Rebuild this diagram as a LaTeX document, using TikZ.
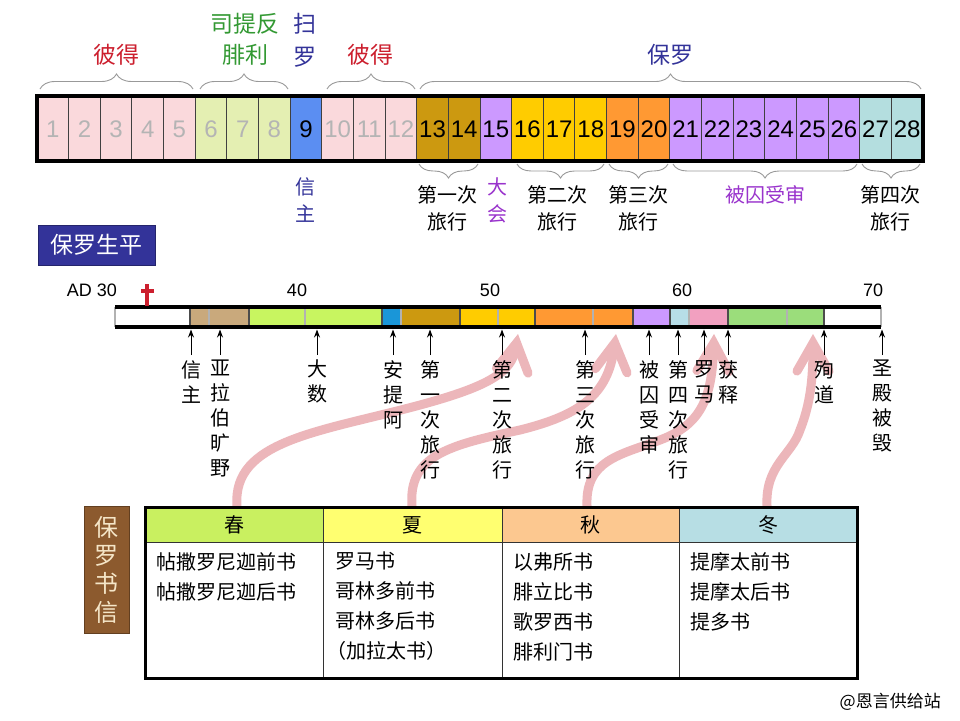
\documentclass[tikz,border=0pt]{standalone}
\usepackage{fontspec}
\setmainfont{Liberation Sans}
\newfontfamily\cjk{Noto Sans CJK SC}
\usetikzlibrary{arrows.meta,decorations.pathreplacing}
\definecolor{pkc}{HTML}{FAD9DC}
\definecolor{lgc}{HTML}{E4EFB2}
\definecolor{blc}{HTML}{5B8EF2}
\definecolor{dgc}{HTML}{CC9910}
\definecolor{lvc}{HTML}{CC99FF}
\definecolor{gdc}{HTML}{FFCC00}
\definecolor{orc}{HTML}{FF9933}
\definecolor{cyc}{HTML}{B4DEDF}
\definecolor{gry}{HTML}{B4B4B4}
\definecolor{tanc}{HTML}{C9A97C}
\definecolor{lgrn}{HTML}{C8F560}
\definecolor{blu2}{HTML}{1A96D8}
\definecolor{cy2}{HTML}{B7DEE8}
\definecolor{pk2}{HTML}{F2A0C0}
\definecolor{gr2}{HTML}{9BDD7B}
\definecolor{redt}{HTML}{CC1F2E}
\definecolor{grnt}{HTML}{339933}
\definecolor{dblue}{HTML}{333399}
\definecolor{purt}{HTML}{9933CC}
\definecolor{brn}{HTML}{8C5A2E}
\definecolor{cream}{HTML}{F5E6C8}
\definecolor{pinkA}{HTML}{ECB6BA}
\definecolor{hsp}{HTML}{C9F060}
\definecolor{hsu}{HTML}{FFFF70}
\definecolor{hau}{HTML}{FCC890}
\definecolor{hwi}{HTML}{B7DEE4}
\begin{document}
\begin{tikzpicture}[x=1pt,y=-1pt,
  num/.style={inner sep=0pt,font=\fontsize{24}{28}\selectfont},
  toplab/.style={inner sep=0pt,font=\cjk\fontsize{23}{28}\selectfont},
  sublab/.style={inner sep=0pt,font=\cjk\fontsize{20}{27}\selectfont,align=center},
  yearlab/.style={inner sep=0pt,font=\fontsize{18}{22}\selectfont},
  evt/.style={inner sep=0pt,anchor=north,align=center,font=\cjk\fontsize{20}{25}\selectfont},
  bracelineup/.style={draw=gray!80,line width=0.9pt,decorate,decoration={brace,amplitude=15pt}},
  bracelinedn/.style={draw=gray!80,line width=0.9pt,decorate,decoration={brace,mirror,amplitude=14pt}},
  tk/.style={line width=1pt,-{Stealth[length=8pt,width=6pt]}},
  pinkarrow/.style={draw=pinkA,line width=9pt,line cap=round,-{Straight Barb[length=28pt,width=32pt,line cap=round]}},
  secdiv/.style={draw=black!70,line width=1.2pt},
  yrdiv/.style={draw=gray!60,line width=1.5pt},
  hdr/.style={inner sep=0pt,font=\cjk\fontsize{20}{24}\selectfont},
  body/.style={inner sep=0pt,anchor=north west,align=left,font=\cjk\fontsize{20}{30}\selectfont}
]
\useasboundingbox (0,0) rectangle (960,720);
\fill[white] (0,0) rectangle (960,720);

% ---------- top bar ----------
\foreach \i/\fc/\tc in {1/pkc/gry,2/pkc/gry,3/pkc/gry,4/pkc/gry,5/pkc/gry,6/lgc/gry,7/lgc/gry,8/lgc/gry,9/blc/black,10/pkc/gry,11/pkc/gry,12/pkc/gry,13/dgc/black,14/dgc/black,15/lvc/black,16/gdc/black,17/gdc/black,18/gdc/black,19/orc/black,20/orc/black,21/lvc/black,22/lvc/black,23/lvc/black,24/lvc/black,25/lvc/black,26/lvc/black,27/cyc/black,28/cyc/black}{
  \pgfmathsetmacro\xa{37+(\i-1)*31.643}
  \pgfmathsetmacro\xb{37+\i*31.643}
  \fill[\fc] (\xa,96) rectangle (\xb,161);
  \node[num,text=\tc] (c\i) at ({(\xa+\xb)/2},129) {\i};
}
\foreach \i in {1,...,27}{
  \pgfmathsetmacro\xb{37+\i*31.643}
  \draw[black!75,line width=1pt] (\xb,96) -- (\xb,161);
}
\draw[line width=3.5pt] (37,96) rectangle (923,161);

% braces above
\draw[bracelineup] (40,89) -- (193,89);
\draw[bracelineup] (200,89) -- (288,89);
\draw[bracelineup] (327,89) -- (415,89);
\draw[bracelineup] (420,89) -- (921,89);

\node[toplab,text=redt] (pe1) at (116,55) {彼得};
\node[toplab,text=grnt] (st1) at (245,24) {司提反};
\node[toplab,text=grnt] (st2) at (245,55) {腓利};
\node[toplab,text=dblue] (sa1) at (305,24) {扫};
\node[toplab,text=dblue] (sa2) at (305,57) {罗};
\node[toplab,text=redt] (pe2) at (370,55) {彼得};
\node[toplab,text=dblue] (pa) at (670,55) {保罗};

% braces below
\draw[bracelinedn] (419,164) -- (478,164);
\draw[bracelinedn] (517,164) -- (604,164);
\draw[bracelinedn] (609,164) -- (668,164);
\draw[bracelinedn] (673,164) -- (857,164);
\draw[bracelinedn] (862,164) -- (920,164);

\node[sublab,text=dblue] (xz) at (305,200) {信\\主};
\node[sublab,text=black] (j1) at (447,208) {第一次\\旅行};
\node[sublab,text=purt] (dh) at (497,200) {大\\会};
\node[sublab,text=black] (j2) at (557,208) {第二次\\旅行};
\node[sublab,text=black] (j3) at (638,208) {第三次\\旅行};
\node[sublab,text=purt] (pr) at (765,195) {被囚受审};
\node[sublab,text=black] (j4) at (890,208) {第四次\\旅行};

% title box
\node[fill=dblue,draw=dblue!70!black,line width=1pt,minimum width=117pt,minimum height=40pt,inner sep=0pt,text=white,font=\cjk\fontsize{23}{28}\selectfont] (life) at (96.5,245) {保罗生平};

% ---------- pink arrows (behind) ----------
\coordinate (s1) at (237,506); \coordinate (e1) at (518,334);
\coordinate (s2) at (412,506); \coordinate (e2) at (616,334);
\coordinate (s3) at (587,506); \coordinate (e3) at (714,334);
\coordinate (s4) at (767,506); \coordinate (e4) at (813,334);
\draw[pinkarrow] (s1) .. controls (232,440) and (320,432) .. (420,405) .. controls (490,386) and (512,372) .. (e1);
\draw[pinkarrow] (s2) .. controls (408,455) and (450,445) .. (520,430) .. controls (580,415) and (608,395) .. (e2);
\draw[pinkarrow] (s3) .. controls (585,460) and (620,455) .. (660,440) .. controls (700,425) and (712,400) .. (e3);
\draw[pinkarrow] (s4) .. controls (765,465) and (792,455) .. (800,430) .. controls (810,405) and (813,380) .. (e4);

% ---------- timeline ----------
\foreach \xa/\xb/\fc in {115/190/white,190/249/tanc,249/382/lgrn,382/401/blu2,401/460/dgc,460/535/gdc,535/633/orc,633/670/lvc,670/689/cy2,689/728/pk2,728/824/gr2,824/881/white}{
  \fill[\fc] (\xa,307) rectangle (\xb,327);
}
\foreach \x in {209,305,401,498,593,689,787,881,115}{\draw[yrdiv] (\x,307) -- (\x,327);}
\foreach \x in {190,249,382,460,535,633,670,728,824}{\draw[secdiv] (\x,307) -- (\x,327);}
\draw[line width=3.5pt] (115,307) -- (881,307);
\draw[line width=3.5pt] (115,327) -- (881,327);

\node[yearlab] (y30) at (92,290) {AD 30};
\node[yearlab] (y40) at (297,290) {40};
\node[yearlab] (y50) at (490,290) {50};
\node[yearlab] (y60) at (682,290) {60};
\node[yearlab] (y70) at (873,290) {70};

% red cross
\fill[redt] (145.2,284) rectangle (148.8,306);
\fill[redt] (140.5,288.5) rectangle (153.5,292.5);

% events
\foreach \n/\x/\t in {a/191/{信\\主},b/220/{亚\\拉\\伯\\旷\\野},c/317/{大\\数},d/393/{安\\提\\阿},e/430/{第\\一\\次\\旅\\行},f/502/{第\\二\\次\\旅\\行},g/585/{第\\三\\次\\旅\\行},h/649/{被\\囚\\受\\审},i/678/{第\\四\\次\\旅\\行},j/704/{罗\\马},k/728/{获\\释},l/824/{殉\\道},m/882/{圣\\殿\\被\\毁}}{
  \coordinate (b\n) at (\x,355);
  \coordinate (t\n) at (\x,329.5);
  \draw[tk] (b\n) -- (t\n);
  \node[evt] (ev\n) at (\x,360) {\t};
}

% ---------- table ----------
\fill[hsp] (145,507) rectangle (323,542);
\fill[hsu] (323,507) rectangle (502,542);
\fill[hau] (502,507) rectangle (679,542);
\fill[hwi] (679,507) rectangle (857,542);
\fill[white] (145,542) rectangle (857,678);
\draw[black!80,line width=1pt] (145,542) -- (857,542);
\foreach \x in {323,502,679}{\draw[black!80,line width=1pt] (\x,507) -- (\x,678);}
\draw[line width=3pt] (145,507) rectangle (857,678);

\node[hdr] (h1) at (234,525) {春};
\node[hdr] (h2) at (412.5,525) {夏};
\node[hdr] (h3) at (590.5,525) {秋};
\node[hdr] (h4) at (768,525) {冬};

\node[body] (b1) at (156,552) {帖撒罗尼迦前书\\帖撒罗尼迦后书};
\node[body] (b2) at (335,552) {罗马书\\哥林多前书\\哥林多后书\\\kern-9pt（加拉太书）};
\node[body] (b3) at (513,552) {以弗所书\\腓立比书\\歌罗西书\\腓利门书};
\node[body] (b4) at (690,552) {提摩太前书\\提摩太后书\\提多书};

% letters box
\node[fill=brn,draw=brn!70!black,line width=1pt,minimum width=45pt,minimum height=127pt,inner sep=0pt,text=cream,align=center,font=\cjk\fontsize{24}{28.3}\selectfont] (letters) at (106.5,569.5) {保\\罗\\书\\信};

% watermark
\node[inner sep=0pt,anchor=east,font=\cjk\fontsize{17}{20}\selectfont] (wm) at (941,702) {@恩言供给站};
\end{tikzpicture}
\end{document}
